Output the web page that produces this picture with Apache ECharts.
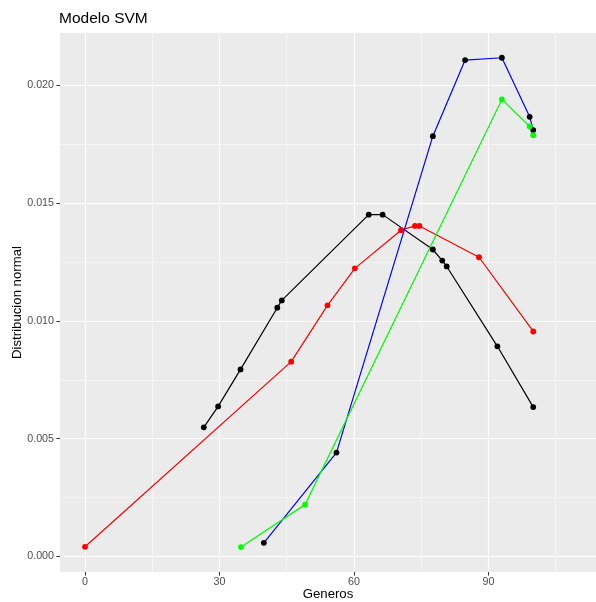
<!DOCTYPE html>
<html>
<head>
<meta charset="utf-8">
<script src="https://cdn.jsdelivr.net/npm/echarts@6/dist/echarts.min.js"></script>
<style>html,body{margin:0;padding:0;background:#fff;}#c{width:596px;height:602px;}</style>
</head>
<body>
<div id="c"></div>
<script>
const blackX = [26.5, 29.7, 34.7, 42.9, 43.9, 63.3, 66.4, 77.6, 79.7, 80.7, 92.0, 100];
const blackY = [0.00548, 0.00637, 0.00794, 0.01056, 0.01087, 0.01451, 0.01451, 0.01303, 0.01256, 0.01231, 0.00892, 0.00634];
const redX = [0, 46.0, 54.1, 60.2, 70.5, 73.6, 74.6, 87.9, 100];
const redY = [0.00041, 0.00827, 0.01066, 0.01223, 0.01385, 0.01403, 0.01403, 0.0127, 0.00955];
const blueX = [39.9, 56.1, 77.6, 84.8, 93.0, 99.2, 100];
const blueY = [0.00058, 0.00441, 0.01784, 0.02107, 0.02117, 0.01866, 0.0181];
const greenX = [34.8, 49.1, 93.0, 99.2, 100];
const greenY = [0.00040, 0.0022, 0.0194, 0.01825, 0.01788];

const xMajor = [0, 30, 60, 90];
const xMinor = [15, 45, 75, 105];
const yMajor = [0, 0.005, 0.010, 0.015, 0.020];
const yMinor = [0.0025, 0.0075, 0.0125, 0.0175];

const FONT = 'Liberation Sans, Arial, Helvetica, sans-serif';
const zip = (xs, ys) => xs.map((x, i) => [x, ys[i]]);

const XMIN = -5.58, XMAX = 114.0, YMIN = -0.00066, YMAX = 0.02222;

function mkSeries(xs, ys, lineColor, ptColor) {
  return {
    type: 'line', data: zip(xs, ys), xAxisIndex: 0, yAxisIndex: 0,
    symbol: 'circle', symbolSize: 5.8, showSymbol: true,
    lineStyle: { color: lineColor, width: 1.2 },
    itemStyle: { color: ptColor, borderWidth: 0 },
    emphasis: { disabled: true }, silent: true
  };
}

const hiddenLine = { show: true, onZero: false, lineStyle: { color: '#ffffff', opacity: 0, width: 0 } };

const chart = echarts.init(document.getElementById('c'), null, { renderer: 'canvas' });
chart.setOption({
  animation: false,
  backgroundColor: '#ffffff',
  title: { text: 'Modelo SVM', left: 59, top: 11, padding: 0,
    textStyle: { fontFamily: FONT, fontSize: 15.5, fontWeight: 'normal', color: '#000' } },
  grid: { left: 60, right: 0, top: 33, bottom: 30, show: true, backgroundColor: '#EBEBEB', borderWidth: 0,
    containLabel: false, outerBoundsMode: 'none' },
  xAxis: [
    { type: 'value', min: XMIN, max: XMAX, position: 'bottom',
      name: 'Generos', nameLocation: 'middle', nameGap: 16, nameMoveOverlap: false,
      nameTextStyle: { fontFamily: FONT, fontSize: 13.2, color: '#000' },
      axisLine: hiddenLine,
      axisTick: { show: true, inside: false, customValues: xMajor, length: 3.6, lineStyle: { color: '#333333', width: 1 } },
      axisLabel: { show: true, customValues: xMajor, margin: 5, fontFamily: FONT, fontSize: 10.7, color: '#4D4D4D',
        formatter: v => String(v) },
      splitLine: { show: true, lineStyle: { color: '#ffffff', width: 1.1 } }
    },
    { type: 'value', min: XMIN, max: XMAX, position: 'bottom',
      axisLine: { show: false, onZero: false },
      axisTick: { show: false, customValues: xMinor },
      axisLabel: { show: false, customValues: xMinor },
      splitLine: { show: true, lineStyle: { color: '#ffffff', width: 0.55 } }
    }
  ],
  yAxis: [
    { type: 'value', min: YMIN, max: YMAX, position: 'left',
      name: 'Distribucion normal', nameLocation: 'middle', nameGap: 36, nameMoveOverlap: false,
      nameTextStyle: { fontFamily: FONT, fontSize: 13.2, color: '#000' },
      axisLine: hiddenLine,
      axisTick: { show: true, inside: false, customValues: yMajor, length: 3.6, lineStyle: { color: '#333333', width: 1 } },
      axisLabel: { show: true, customValues: yMajor, margin: 6, fontFamily: FONT, fontSize: 10.7, color: '#4D4D4D',
        formatter: v => v.toFixed(3) },
      splitLine: { show: true, lineStyle: { color: '#ffffff', width: 1.1 } }
    },
    { type: 'value', min: YMIN, max: YMAX, position: 'left',
      axisLine: { show: false, onZero: false },
      axisTick: { show: false, customValues: yMinor },
      axisLabel: { show: false, customValues: yMinor },
      splitLine: { show: true, lineStyle: { color: '#ffffff', width: 0.55 } }
    }
  ],
  series: [
    mkSeries(blackX, blackY, '#000000', '#000000'),
    mkSeries(redX, redY, '#FF0000', '#FF0000'),
    mkSeries(blueX, blueY, '#0000FF', '#000000'),
    mkSeries(greenX, greenY, '#00FF00', '#00FF00')
  ]
});
</script>
</body>
</html>
